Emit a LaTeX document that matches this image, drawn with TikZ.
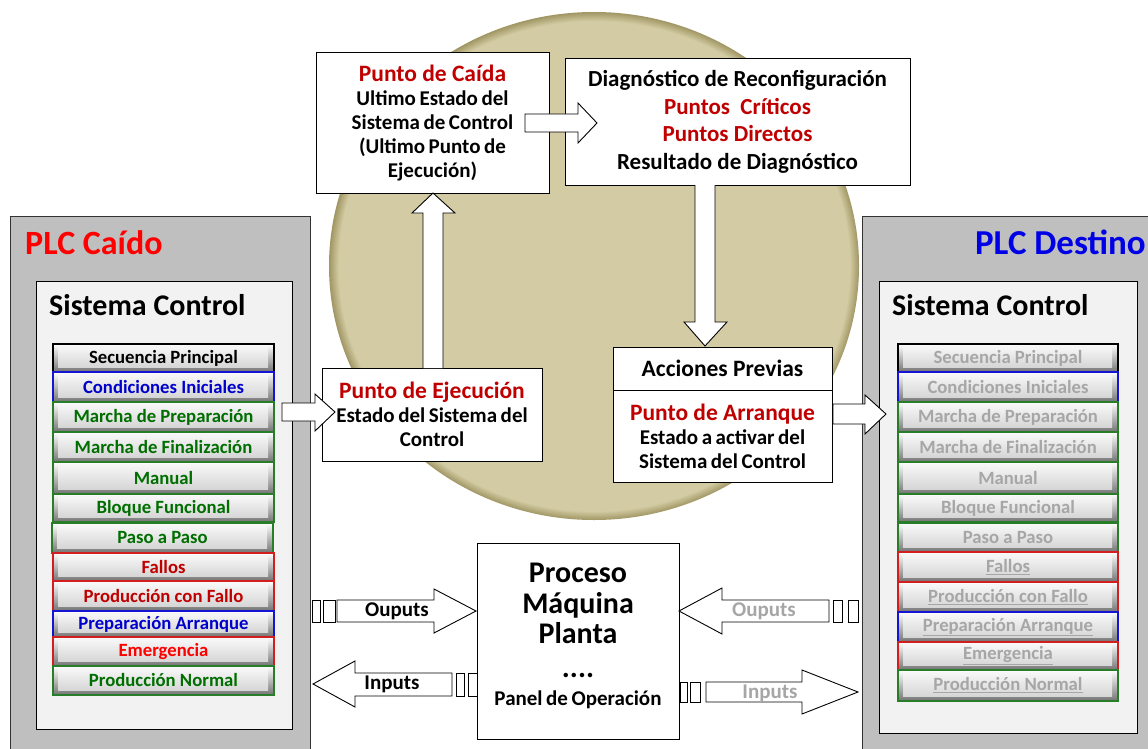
\documentclass[tikz,border=0pt]{standalone}
\usepackage{fontspec}
\setmainfont{Carlito}
\usetikzlibrary{calc}
\definecolor{dred}{RGB}{192,0,0}
\definecolor{bred}{RGB}{255,0,0}
\definecolor{dblue}{RGB}{0,0,204}
\definecolor{pblue}{RGB}{0,0,230}
\definecolor{dgreen}{RGB}{0,110,0}
\definecolor{bgreen}{RGB}{40,125,40}
\definecolor{bblue}{RGB}{20,20,210}
\definecolor{bredb}{RGB}{210,30,30}
\definecolor{ggray}{RGB}{166,166,166}
\definecolor{tanc}{RGB}{211,203,163}
\definecolor{tandk}{RGB}{160,150,100}
\definecolor{plcgray}{RGB}{191,191,191}
\definecolor{panelc}{RGB}{242,242,242}
\definecolor{btntop}{RGB}{246,246,246}
\definecolor{btnbot}{RGB}{214,214,214}
\definecolor{btnedge}{RGB}{115,115,115}
\pgfdeclareradialshading{rim}{\pgfpoint{0bp}{0bp}}{color(0bp)=(tanc); color(24.1bp)=(tanc); color(25bp)=(tandk); color(50bp)=(tandk)}
\newcommand\mybtn[8]{%
  \shade[top color=white,bottom color=btnedge] (#2,#3) rectangle (#4,#5);
  \shade[top color=btntop,bottom color=btnbot] ($(#2,#3)+(5,3)$) rectangle ($(#4,#5)+(-6,-5)$);
  \draw[#6,line width=1.3pt] (#2,#3) rectangle (#4,#5);
  \node[btntext,text=#7] (#1) at ($(#2,#3)!0.5!(#4,#5)$) {#8};
}
\newcommand\tightsp{\spaceskip 0.17em\relax}
\newcommand\normsp{\spaceskip 0.226em\relax}
\newcommand\ttl[1]{{\fontsize{23.5}{24}\selectfont\normsp\color{dred}#1}}
\begin{document}
\begin{tikzpicture}[x=1pt,y=-1pt,line join=miter,
  btntext/.style={inner sep=0pt,font=\fontsize{18.7}{20}\selectfont\bfseries},
  plcbox/.style={draw=black!80,line width=1.3pt,fill=plcgray},
  panelbox/.style={draw=black,line width=1.2pt,fill=panelc},
  wbox/.style={draw=black,line width=1pt,fill=white,inner sep=2pt,align=center},
  bt/.style={font=\fontsize{21}{24}\selectfont\bfseries\tightsp},
  barrow/.style={draw=black,line width=0.9pt,fill=white},
  iotext/.style={inner sep=0pt,font=\fontsize{21}{23}\selectfont\bfseries},
  smallrect/.style={draw=black,line width=0.9pt,fill=white}]
\clip (0,0) rectangle (1148,749);
\fill[white] (0,0) rectangle (1148,749);

% background disc
\shade[shading=rim] (594,266) ellipse [x radius=265, y radius=254];

% PLC containers
\node[plcbox,minimum width=300,minimum height=544,anchor=north west,inner sep=0pt] (plcL) at (10,216) {};
\node[panelbox,minimum width=256,minimum height=448,anchor=north west,inner sep=0pt] (panL) at (36,281) {};
\node[plcbox,minimum width=300,minimum height=544,anchor=north west,inner sep=0pt] (plcR) at (862,216) {};
\node[panelbox,minimum width=258,minimum height=452,anchor=north west,inner sep=0pt] (panR) at (879,281) {};

\node[anchor=base west,inner sep=0pt,text=bred,font=\fontsize{34}{36}\selectfont\bfseries] (tL) at (25,254) {PLC Caído};
\node[anchor=base west,inner sep=0pt,font=\fontsize{30}{32}\selectfont\bfseries] (sL) at (49,315) {Sistema Control};
\node[anchor=base east,inner sep=0pt,text=pblue,font=\fontsize{35}{36}\selectfont\bfseries] (tR) at (1146,254) {PLC Destino};
\node[anchor=base west,inner sep=0pt,font=\fontsize{30}{32}\selectfont\bfseries] (sR) at (892,315) {Sistema Control};

% left buttons
\mybtn{l1}{53}{344}{274}{372}{black}{black}{Secuencia Principal}
\mybtn{l2}{53}{372}{274}{402}{bblue}{dblue}{Condiciones Iniciales}
\mybtn{l3}{53}{402}{274}{432}{bgreen}{dgreen}{Marcha de Preparación}
\mybtn{l4}{53}{432}{274}{462}{bgreen}{dgreen}{Marcha de Finalización}
\mybtn{l5}{53}{462}{274}{494}{bgreen}{dgreen}{Manual}
\mybtn{l6}{53}{494}{274}{522}{bgreen}{dgreen}{Bloque Funcional}
\mybtn{l7}{52}{523}{273}{553}{bgreen}{dgreen}{Paso a Paso}
\mybtn{l8}{53}{553}{274}{581}{bredb}{dred}{Fallos}
\mybtn{l9}{53}{581}{274}{611}{bredb}{dred}{Producción con Fallo}
\mybtn{l10}{53}{611}{274}{637}{bblue}{dblue}{Preparación Arranque}
\mybtn{l11}{53}{637}{274}{666}{bredb}{bred}{Emergencia}
\mybtn{l12}{53}{666}{274}{695}{bgreen}{dgreen}{Producción Normal}

% right buttons
\mybtn{r1}{898}{344}{1118}{372}{black}{ggray}{Secuencia Principal}
\mybtn{r2}{898}{372}{1118}{402}{bblue}{ggray}{Condiciones Iniciales}
\mybtn{r3}{898}{402}{1118}{432}{bgreen}{ggray}{Marcha de Preparación}
\mybtn{r4}{898}{432}{1118}{462}{bgreen}{ggray}{Marcha de Finalización}
\mybtn{r5}{898}{462}{1118}{494}{bgreen}{ggray}{Manual}
\mybtn{r6}{898}{494}{1118}{522}{bgreen}{ggray}{Bloque Funcional}
\mybtn{r7}{898}{523}{1118}{552}{bgreen}{ggray}{Paso a Paso}
\mybtn{r8}{898}{552}{1118}{582}{bredb}{ggray}{\underline{Fallos}}
\mybtn{r9}{898}{582}{1118}{612}{bredb}{ggray}{\underline{Producción con Fallo}}
\mybtn{r10}{898}{612}{1118}{642}{bblue}{ggray}{\underline{Preparación Arranque}}
\mybtn{r11}{898}{642}{1118}{670}{bredb}{ggray}{\underline{Emergencia}}
\mybtn{r12}{898}{670}{1118}{701}{bgreen}{ggray}{\underline{Producción Normal}}

% central boxes
\node[wbox,bt,minimum width=233,minimum height=140] (caida) at (432.5,123)
  {\ttl{Punto de Caída}\\Ultimo Estado del\\Sistema de Control\\(Ultimo Punto de\\Ejecución)};
\node[wbox,font=\fontsize{23}{27.5}\selectfont\bfseries,minimum width=345,minimum height=126] (diag) at (737.5,122)
  {Diagnóstico de Reconfiguración\\\textcolor{dred}{Puntos\ \ Críticos}\\\textcolor{dred}{Puntos Directos}\\Resultado de Diagnóstico};
\node[wbox,bt,minimum width=220,minimum height=93] (ejec) at (432,414.5)
  {\ttl{Punto de Ejecución}\\Estado del Sistema del\\Control};
\node[wbox,font=\fontsize{23.5}{24}\selectfont\bfseries,minimum width=219,minimum height=43] (acc) at (722.5,368.5) {Acciones Previas};
\node[wbox,bt,minimum width=219,minimum height=92] (arr) at (722.5,436)
  {\ttl{Punto de Arranque}\\Estado a activar del\\Sistema del Control};

% block arrows between boxes
\draw[barrow] (525,114) -- (578,114) -- (578,103) -- (597,123) -- (578,143) -- (578,132) -- (525,132) -- cycle;
\draw[barrow] (423,368) -- (423,213) -- (412,213) -- (433,193) -- (455,213) -- (443,213) -- (443,368);
\draw[barrow] (695,185) -- (695,322) -- (684,322) -- (705,346) -- (727,322) -- (715,322) -- (715,185);
\draw[barrow] (282,403) -- (315,403) -- (315,394) -- (335,412) -- (315,431) -- (315,421) -- (282,421) -- cycle;
\draw[barrow] (833,404) -- (865,404) -- (865,395) -- (886,414) -- (865,434) -- (865,424) -- (833,424) -- cycle;

% process box
\node[wbox,minimum width=202,minimum height=196] (proc) at (578,641) {};
\node[inner sep=0pt,anchor=base,font=\fontsize{30}{32}\selectfont\bfseries] (p1) at (578,582) {Proceso};
\node[inner sep=0pt,anchor=base,font=\fontsize{30}{32}\selectfont\bfseries] (p2) at (578,613) {Máquina};
\node[inner sep=0pt,anchor=base,font=\fontsize{30}{32}\selectfont\bfseries] (p3) at (578,643) {Planta};
\node[inner sep=0pt,anchor=base,font=\fontsize{30}{32}\selectfont\bfseries] (p4) at (578,677) {....};
\node[inner sep=0pt,anchor=base,font=\fontsize{21}{22}\selectfont\bfseries\tightsp] (p5) at (578,705) {Panel de Operación};

% I/O arrows left
\draw[smallrect] (312,600) rectangle (320,622);
\draw[smallrect] (323,600) rectangle (335,622);
\draw[barrow] (337,600) -- (434,600) -- (434,589) -- (476,611) -- (434,633) -- (434,622) -- (337,622) -- cycle;
\node[iotext] (oL) at (397,611) {Ouputs};
\draw[barrow] (452,673) -- (355,673) -- (355,661) -- (313,684) -- (355,707) -- (355,696) -- (452,696) -- cycle;
\draw[smallrect] (456,673) rectangle (464,696);
\draw[smallrect] (468,673) rectangle (477,696);
\node[iotext] (iL) at (392,684) {Inputs};

% I/O arrows right
\draw[barrow] (829,600) -- (722,600) -- (722,588) -- (679,611) -- (722,634) -- (722,622) -- (829,622) -- cycle;
\draw[smallrect] (833,600) rectangle (842,622);
\draw[smallrect] (848,600) rectangle (858,622);
\node[iotext,text=ggray] (oR) at (764,611) {Ouputs};
\draw[smallrect] (680,682) rectangle (687,702);
\draw[smallrect] (690,682) rectangle (700,702);
\draw[barrow] (706,682) -- (802,682) -- (802,670) -- (858,692) -- (802,714) -- (802,702) -- (706,702) -- cycle;
\node[iotext,text=ggray] (iR) at (770,693) {Inputs};
\end{tikzpicture}
\end{document}
